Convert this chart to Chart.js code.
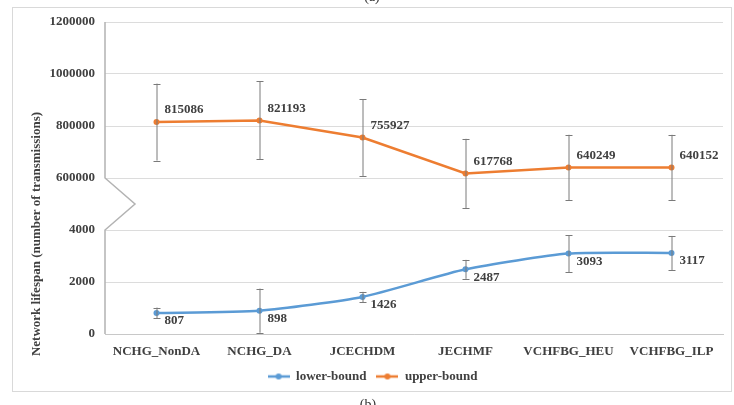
<!DOCTYPE html>
<html>
<head>
<meta charset="utf-8">
<script src="https://cdn.jsdelivr.net/npm/chart.js@4"></script>
<style>
  html, body { margin: 0; padding: 0; background: #fff; }
  #wrap { width: 734px; height: 405px; }
</style>
</head>
<body>
<div id="wrap"><canvas id="c" width="734" height="405"></canvas></div>
<script>
// Methods compared
const categories = ['NCHG_NonDA', 'NCHG_DA', 'JCECHDM', 'JECHMF', 'VCHFBG_HEU', 'VCHFBG_ILP'];

// Lower bound of network lifespan (transmissions) with error half-widths
const lowerBound = [807, 898, 1426, 2487, 3093, 3117];
const lowerError = [210, 850, 195, 365, 710, 655];

// Upper bound of network lifespan (transmissions) with error half-widths
const upperBound = [815086, 821193, 755927, 617768, 640249, 640152];
const upperError = [148000, 150000, 148000, 133000, 126000, 126000];

// Tick values shown on the broken y axis
const lowerTicks = [0, 2000, 4000];
const upperTicks = [600000, 800000, 1000000, 1200000];

const yTitle = 'Network lifespan (number of transmissions)';
const FONT = '"Liberation Serif", "Times New Roman", serif';
const TEXT = '#404040';
const BLUE = '#5B9BD5';
const ORANGE = '#ED7D31';

// The y axis is broken: 0..4000 takes units 0..2, 600000..1200000 takes units 3..6.
const LOW_STEP = 2000, HIGH_BASE = 600000, HIGH_STEP = 200000, HIGH_OFFSET = 3;
function toAxis(v, upper) {
  return upper ? HIGH_OFFSET + (v - HIGH_BASE) / HIGH_STEP : v / LOW_STEP;
}
function fromAxis(u) {
  return u <= 2 ? u * LOW_STEP : HIGH_BASE + (u - HIGH_OFFSET) * HIGH_STEP;
}

function legendSwatch(color) {
  const c = document.createElement('canvas');
  c.width = 22; c.height = 8;
  const g = c.getContext('2d');
  g.strokeStyle = color; g.lineWidth = 2.5;
  g.beginPath(); g.moveTo(0, 4); g.lineTo(22, 4); g.stroke();
  g.fillStyle = color;
  g.beginPath(); g.arc(11, 4, 3, 0, Math.PI * 2); g.fill();
  return c;
}

const series = [
  { label: 'lower-bound', values: lowerBound, errors: lowerError, upper: false, color: BLUE, tension: 0.2 },
  { label: 'upper-bound', values: upperBound, errors: upperError, upper: true, color: ORANGE, tension: 0 }
];

const brokenAxis = {
  id: 'brokenAxis',
  beforeDraw(chart) {
    const ctx = chart.ctx;
    ctx.save();
    ctx.fillStyle = '#fff';
    ctx.fillRect(0, 0, chart.width, chart.height);
    ctx.strokeStyle = '#d9d9d9';
    ctx.lineWidth = 1;
    ctx.strokeRect(12.5, 7.5, 719, 384);
    ctx.fillStyle = '#333';
    ctx.font = '14px ' + FONT;
    ctx.textAlign = 'center';
    ctx.textBaseline = 'alphabetic';
    ctx.fillText('(a)', 372, 1);
    ctx.textBaseline = 'top';
    ctx.fillText('(b)', 368, 398);
    ctx.restore();
  },
  beforeDatasetsDraw(chart) {
    const ctx = chart.ctx, y = chart.scales.y, left = chart.chartArea.left;
    ctx.save();
    ctx.strokeStyle = '#b3b3b3';
    ctx.lineWidth = 1.5;
    ctx.lineJoin = 'miter';
    ctx.beginPath();
    ctx.moveTo(left, y.getPixelForValue(6));
    ctx.lineTo(left, y.getPixelForValue(3));
    ctx.lineTo(left + 30, y.getPixelForValue(2.5));
    ctx.lineTo(left, y.getPixelForValue(2));
    ctx.lineTo(left, y.getPixelForValue(0));
    ctx.stroke();
    // axis title
    ctx.fillStyle = TEXT;
    ctx.font = 'bold 13px ' + FONT;
    ctx.textAlign = 'center';
    ctx.textBaseline = 'middle';
    ctx.translate(37, 234);
    ctx.rotate(-Math.PI / 2);
    ctx.fillText(yTitle, 0, 0);
    ctx.restore();
  },
  afterDatasetsDraw(chart) {
    const ctx = chart.ctx, x = chart.scales.x, y = chart.scales.y;
    ctx.save();
    chart.data.datasets.forEach((ds) => {
      const s = ds.series;
      s.values.forEach((v, i) => {
        const px = x.getPixelForValue(i);
        const top = y.getPixelForValue(toAxis(v + s.errors[i], s.upper));
        const bot = y.getPixelForValue(toAxis(v - s.errors[i], s.upper));
        ctx.strokeStyle = '#7a7a7a';
        ctx.lineWidth = 1;
        ctx.beginPath();
        ctx.moveTo(px + 0.5, top); ctx.lineTo(px + 0.5, bot);
        ctx.moveTo(px - 3, Math.round(top) + 0.5); ctx.lineTo(px + 4, Math.round(top) + 0.5);
        ctx.moveTo(px - 3, Math.round(bot) + 0.5); ctx.lineTo(px + 4, Math.round(bot) + 0.5);
        ctx.stroke();
      });
    });
    // value labels
    ctx.fillStyle = TEXT;
    ctx.font = 'bold 13px ' + FONT;
    ctx.textAlign = 'left';
    ctx.textBaseline = 'middle';
    chart.data.datasets.forEach((ds) => {
      const s = ds.series;
      s.values.forEach((v, i) => {
        const px = x.getPixelForValue(i);
        const py = y.getPixelForValue(toAxis(v, s.upper));
        ctx.fillText(String(v), px + 8, s.upper ? py - 12 : py + 8);
      });
    });
    ctx.restore();
  }
};

new Chart(document.getElementById('c'), {
  type: 'line',
  data: {
    labels: categories,
    datasets: series.map(s => ({
      label: s.label,
      series: s,
      data: s.values.map(v => toAxis(v, s.upper)),
      borderColor: s.color,
      backgroundColor: s.color,
      borderWidth: 2.5,
      pointRadius: 3,
      pointBorderWidth: 0,
      pointHoverRadius: 3,
      tension: s.tension,
      fill: false
    }))
  },
  options: {
    responsive: false,
    animation: false,
    events: [],
    layout: { padding: { left: 22, right: 11, top: 22, bottom: 12 } },
    scales: {
      x: {
        type: 'category',
        offset: true,
        grid: { display: false, drawTicks: false },
        border: { display: true, color: '#c8c8c8', width: 1 },
        ticks: { color: TEXT, font: { family: FONT, size: 13, weight: 'bold' }, padding: 10, maxRotation: 0, autoSkip: false },
        afterFit(scale) { scale.height = 26; }
      },
      y: {
        min: 0, max: 6,
        grid: { color: '#dcdcdc', drawTicks: false, lineWidth: 1 },
        border: { display: false },
        ticks: {
          stepSize: 1,
          padding: 10,
          color: TEXT,
          font: { family: FONT, size: 13, weight: 'bold' },
          callback(u) {
            const v = Math.round(fromAxis(u));
            return (lowerTicks.includes(v) && u <= 2) || (upperTicks.includes(v) && u >= 3) ? String(v) : '';
          }
        },
        afterFit(scale) { scale.width = 83; }
      }
    },
    plugins: {
      tooltip: { enabled: false },
      legend: {
        position: 'bottom',
        labels: {
          usePointStyle: true,
          pointStyleWidth: 22,
          padding: 10,
          color: TEXT,
          font: { family: FONT, size: 13, weight: 'bold' },
          generateLabels(chart) {
            return chart.data.datasets.map((ds, i) => ({
              text: ds.label,
              datasetIndex: i,
              pointStyle: legendSwatch(ds.series.color),
              fillStyle: ds.series.color,
              strokeStyle: ds.series.color,
              lineWidth: 0,
              fontColor: TEXT,
              hidden: false
            }));
          }
        }
      }
    }
  },
  plugins: [brokenAxis]
});
</script>
</body>
</html>
